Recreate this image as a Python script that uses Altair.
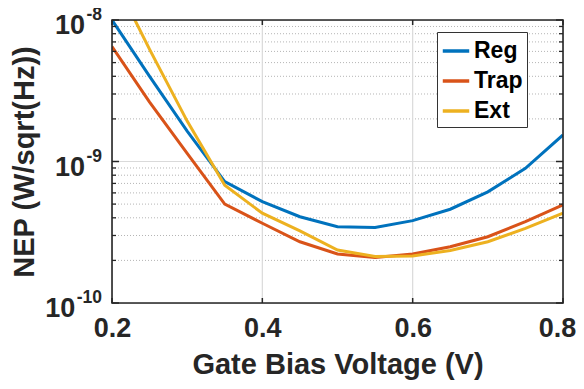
import altair as alt
import pandas as pd

# ---- data ----
volts = [0.20, 0.25, 0.30, 0.35, 0.40, 0.45, 0.50, 0.55, 0.60, 0.65, 0.70, 0.75, 0.80]
reg = [1.0e-8, 4.0e-9, 1.64e-9, 7.2e-10, 5.2e-10, 4.07e-10, 3.46e-10, 3.42e-10,
       3.82e-10, 4.6e-10, 6.1e-10, 8.95e-10, 1.54e-9]
trap = [6.5e-9, 2.63e-9, 1.14e-9, 5.0e-10, 3.66e-10, 2.71e-10, 2.22e-10, 2.10e-10,
        2.22e-10, 2.5e-10, 2.94e-10, 3.76e-10, 4.93e-10]
ext = [2.1e-8, 6.2e-9, 1.93e-9, 6.8e-10, 4.31e-10, 3.23e-10, 2.37e-10, 2.13e-10,
       2.15e-10, 2.35e-10, 2.71e-10, 3.37e-10, 4.31e-10]

series_names = ["Reg", "Trap", "Ext"]
series_colors = ["#0072BD", "#D95319", "#EDB120"]

x_ticks = [0.2, 0.4, 0.6, 0.8]
x_grid = [0.4, 0.6]
y_major = [1e-10, 1e-9, 1e-8]
y_exponents = ["-10", "-9", "-8"]
y_grid_major = [1e-9]
y_minor = [2e-10, 3e-10, 4e-10, 5e-10, 6e-10, 7e-10, 8e-10, 9e-10,
           2e-9, 3e-9, 4e-9, 5e-9, 6e-9, 7e-9, 8e-9, 9e-9]

W, H = 451, 283
FONT = "Liberation Sans"
TXT = "#262626"

rows = []
for name, vals in zip(series_names, [reg, trap, ext]):
    for v, n in zip(volts, vals):
        rows.append({"v": v, "nep": n, "series": name})
df = pd.DataFrame(rows)

xscale = alt.Scale(domain=[0.2, 0.8], nice=False, zero=False)
yscale = alt.Scale(type="log", domain=[1e-10, 1e-8], nice=False)

x_axis = alt.Axis(values=x_ticks, format=".1f", grid=False, ticks=False,
                  domain=False, labelFontSize=27, labelFont=FONT, labelFlush=False,
                  labelOffset={"condition": {"test": "datum.value > 0.79", "value": -6},
                               "value": 0},
                  labelFontWeight="bold", labelColor=TXT, labelPadding=12,
                  title="Gate Bias Voltage (V)", titleFontSize=29,
                  titleFont=FONT, titleFontWeight="bold", titleColor=TXT,
                  titlePadding=9)
y_axis = alt.Axis(labels=False, ticks=False, grid=False, domain=False,
                  title="NEP (W/sqrt(Hz))", titleFontSize=29, titleFont=FONT,
                  titleFontWeight="bold", titleColor=TXT, titlePadding=73)

Xn = alt.X("v:Q", scale=xscale, axis=x_axis, title="Gate Bias Voltage (V)")
Yn = alt.Y("nep:Q", scale=yscale, axis=y_axis, title="NEP (W/sqrt(Hz))")

df_xgrid = pd.DataFrame({"v": x_grid})
df_xticks = pd.DataFrame({"v": x_ticks})
df_ymajor = pd.DataFrame({"nep": y_major, "exp": y_exponents})
df_ygridmaj = pd.DataFrame({"nep": y_grid_major})
df_yminor = pd.DataFrame({"nep": y_minor})
df_frame = pd.DataFrame({"k": [0]})

minor_grid = alt.Chart(df_yminor).mark_rule(
    color="#b5b5b5", strokeWidth=1, strokeDash=[1, 2]
).encode(y=Yn)

major_hgrid = alt.Chart(df_ygridmaj).mark_rule(color="#dadada", strokeWidth=1.2).encode(y=Yn)
major_vgrid = alt.Chart(df_xgrid).mark_rule(color="#dadada", strokeWidth=1.2).encode(x=Xn)

lines = alt.Chart(df).mark_line(strokeWidth=3, clip=True).encode(
    x=Xn,
    y=Yn,
    color=alt.Color("series:N",
                    scale=alt.Scale(domain=series_names, range=series_colors),
                    sort=series_names,
                    legend=alt.Legend(title=None, orient="none", legendX=325, legendY=12,
                                      symbolType="stroke", symbolStrokeWidth=3.5,
                                      symbolSize=700, labelFontSize=23, labelFont=FONT,
                                      labelFontWeight="bold", labelColor="black",
                                      strokeColor="#333333", fillColor="white",
                                      padding=4, rowPadding=3, labelOffset=3,
                                      cornerRadius=0)),
)

tick_major_left = alt.Chart(df_ymajor).mark_rule(color=TXT, strokeWidth=1.5).encode(
    y=Yn, x=alt.value(0), x2=alt.value(7))
tick_major_right = alt.Chart(df_ymajor).mark_rule(color=TXT, strokeWidth=1.5).encode(
    y=Yn, x=alt.value(W), x2=alt.value(W - 7))
tick_minor_left = alt.Chart(df_yminor).mark_rule(color=TXT, strokeWidth=1.3).encode(
    y=Yn, x=alt.value(0), x2=alt.value(4))
tick_minor_right = alt.Chart(df_yminor).mark_rule(color=TXT, strokeWidth=1.3).encode(
    y=Yn, x=alt.value(W), x2=alt.value(W - 4))
tick_x_bottom = alt.Chart(df_xticks).mark_rule(color=TXT, strokeWidth=1.5).encode(
    x=Xn, y=alt.value(H), y2=alt.value(H - 5))
tick_x_top = alt.Chart(df_xticks).mark_rule(color=TXT, strokeWidth=1.5).encode(
    x=Xn, y=alt.value(0), y2=alt.value(5))

frame = alt.Chart(df_frame).mark_rect(fill=None, stroke=TXT, strokeWidth=1.6).encode(
    x=alt.value(0), x2=alt.value(W), y=alt.value(0), y2=alt.value(H))

# anchor = right edge of the "10"; exponent follows it
anchor_expr = "-11.5 - 17.5 * (0.333 + 0.556 * (length(datum.exp) - 1))"

ylab_base = alt.Chart(df_ymajor).transform_calculate(
    anchor=anchor_expr, base="'10'"
).mark_text(align="right", baseline="middle", dy=6, fontSize=27, font=FONT,
            fontWeight="bold", color=TXT).encode(
    y=Yn, x=alt.X("anchor:Q", scale=None, axis=None), text="base:N")

ylab_exp = alt.Chart(df_ymajor).transform_calculate(
    anchor=anchor_expr
).mark_text(align="left", baseline="middle", dy=-5, dx=1.5, fontSize=17.5, font=FONT,
            fontWeight="bold", color=TXT).encode(
    y=Yn, x=alt.X("anchor:Q", scale=None, axis=None), text="exp:N")

chart = alt.layer(
    minor_grid, major_hgrid, major_vgrid, lines,
    tick_major_left, tick_major_right, tick_minor_left, tick_minor_right,
    tick_x_bottom, tick_x_top, frame, ylab_base, ylab_exp
).properties(
    width=W, height=H,
    autosize=alt.AutoSizeParams(type="none"),
    padding={"left": 104, "top": 12, "right": 13, "bottom": 78},
).configure_view(
    stroke=None
).configure(background="white")

chart.save("out.html", embed_options={"renderer": "svg", "actions": False})
